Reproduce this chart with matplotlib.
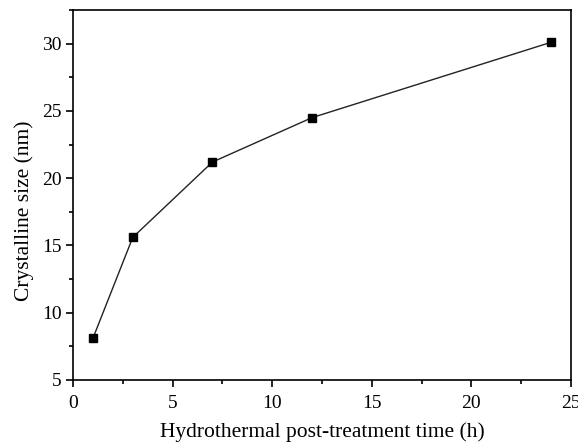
import numpy as np
import matplotlib.pyplot as plt
from matplotlib.ticker import MultipleLocator

plt.rcParams['font.family'] = ['Liberation Serif', 'DejaVu Serif']

# hydrothermal post-treatment time (h) and crystalline size (nm)
tiempo = [1, 3, 7, 12, 24]
tamano = [8.1, 15.6, 21.2, 24.5, 30.1]

fig = plt.figure(figsize=(5.78, 4.43), dpi=100)
ax = fig.add_axes([73/578, 1 - 380/443, (571-73)/578, (380-10)/443])

ax.plot(tiempo, tamano, color='#222222', lw=1.0, marker='s', ms=6,
        mfc='black', mec='black')

ax.set_xlim(0, 25)
ax.set_ylim(5, 32.5)
ax.xaxis.set_major_locator(MultipleLocator(5))
ax.xaxis.set_minor_locator(MultipleLocator(2.5))
ax.yaxis.set_major_locator(MultipleLocator(5))
ax.yaxis.set_minor_locator(MultipleLocator(2.5))
ax.tick_params(which='both', direction='out', top=False, right=False,
               labelsize=14, width=1.2)
ax.tick_params(which='major', length=5)
ax.tick_params(which='minor', length=3)
ax.tick_params(axis='x', pad=6)
ax.tick_params(axis='y', pad=3)
for s in ax.spines.values():
    s.set_linewidth(1.2)

ax.set_xlabel('Hydrothermal post-treatment time (h)', fontsize=15.5)
ax.set_ylabel('Crystalline size (nm)', fontsize=15.5)
ax.xaxis.set_label_coords(0.5, -0.113)
ax.yaxis.set_label_coords(-0.078, 0.457)

fig.savefig('out.png', dpi=100)
